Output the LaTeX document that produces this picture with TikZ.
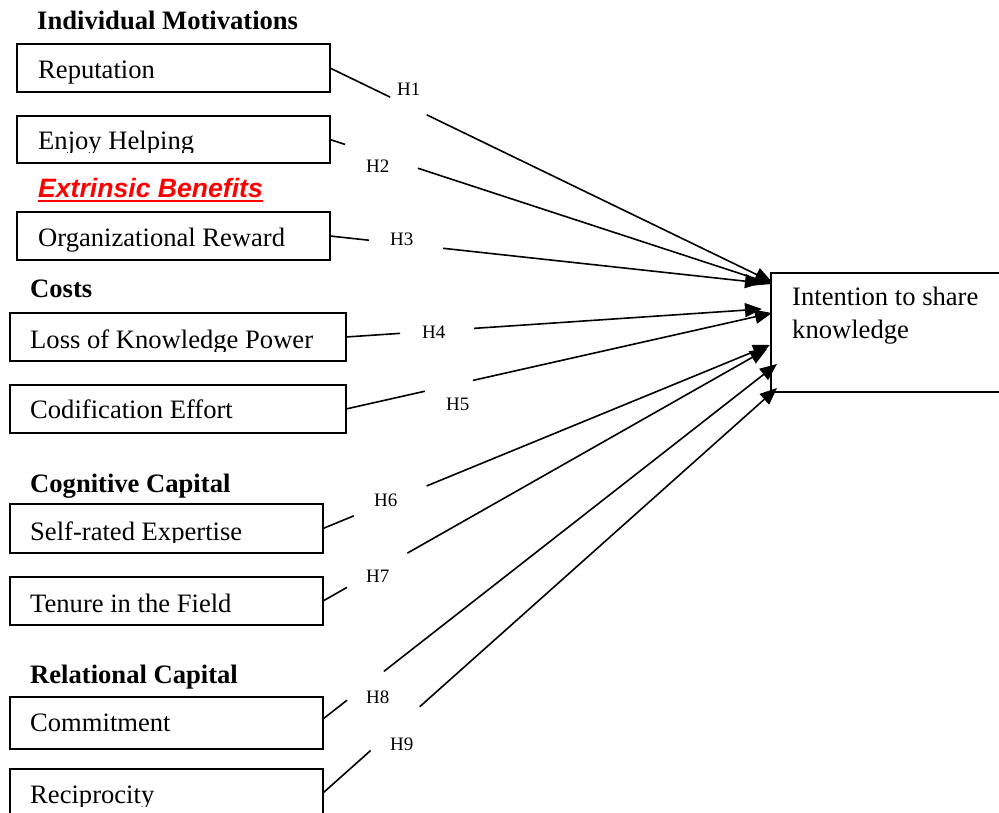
\documentclass[tikz,border=0pt]{standalone}
\usepackage{fontspec}
\setmainfont{Liberation Serif}
\newfontfamily\arialfont{Liberation Sans}
\usetikzlibrary{arrows.meta,calc}
\begin{document}
\begin{tikzpicture}[x=1pt,y=-1pt,
  box/.style={draw, line width=1.6pt, rectangle, inner sep=0pt, outer sep=0pt, anchor=north west},
  txt/.style={anchor=base west, inner sep=0pt, font=\fontsize{26.6}{33}\selectfont},
  head/.style={anchor=base west, inner sep=0pt, font=\fontsize{26.6}{33}\selectfont\bfseries},
  hyp/.style={anchor=base west, inner sep=0pt, font=\fontsize{19}{22}\selectfont},
  conn/.style={line width=1.6pt},
  arr/.style={line width=1.6pt, -{Triangle[length=17pt,width=14pt]}},
]
\useasboundingbox (0,0) rectangle (999,813);
\clip (0,0) rectangle (999,813);

% boxes
\node[box, minimum width=313pt, minimum height=48pt] (rep) at (17,44) {};
\node[box, minimum width=313pt, minimum height=47pt] (enj) at (17,116) {};
\node[box, minimum width=313pt, minimum height=48pt] (org) at (17,212) {};
\node[box, minimum width=336pt, minimum height=48pt] (los) at (10,313) {};
\node[box, minimum width=336pt, minimum height=48pt] (cod) at (10,385) {};
\node[box, minimum width=313pt, minimum height=49pt] (sel) at (10,504) {};
\node[box, minimum width=313pt, minimum height=48pt] (ten) at (10,577) {};
\node[box, minimum width=313pt, minimum height=52pt] (com) at (10,697) {};
\node[box, minimum width=313pt, minimum height=48pt] (rec) at (10,769) {};
\node[box, minimum width=260pt, minimum height=119pt] (int) at (771,273) {};

% headings
\node[head] (hIM) at (37,30) {Individual Motivations};
\node[anchor=base west, inner sep=0pt, text=red, font=\arialfont\fontsize{26.6}{33}\selectfont\bfseries\itshape] (hEB) at (38,198) {Extrinsic Benefits};
\draw[red, line width=1.8pt] ([yshift=-2.8pt]hEB.base west) -- ([yshift=-2.8pt]hEB.base east);
\node[head] (hCo) at (30,298) {Costs};
\node[head] (hCC) at (30,492) {Cognitive Capital};
\node[head] (hRC) at (30,683) {Relational Capital};

% box texts
\node[txt] (lrep) at (38,79) {Reputation};
\begin{scope}
  \clip (0,0) rectangle (999,152.5);
  \node[txt] (lenj) at (38,150) {Enjoy Helping};
\end{scope}
\node[txt] (lorg) at (38,247) {Organizational Reward};
\begin{scope}
  \clip (0,0) rectangle (999,351);
  \node[txt] (llos) at (30,348) {Loss of Knowledge Power};
\end{scope}
\node[txt] (lcod) at (30,418) {Codification Effort};
\begin{scope}
  \clip (0,0) rectangle (999,542.5);
  \node[txt] (lsel) at (30,540) {Self-rated Expertise};
\end{scope}
\node[txt] (lten) at (30,612) {Tenure in the Field};
\node[txt] (lcom) at (30,731) {Commitment};
\begin{scope}
  \clip (0,0) rectangle (999,806);
  \node[txt] (lrec) at (30,803) {Reciprocity};
\end{scope}
\node[txt, align=left] (lint) at (792,338) {Intention to share\\knowledge};

% hypothesis labels
\node[hyp] (H1) at (397,96) {H1};
\node[hyp] (H2) at (366,173) {H2};
\node[hyp] (H3) at (390,246) {H3};
\node[hyp] (H4) at (422,338) {H4};
\node[hyp] (H5) at (446,410) {H5};
\node[hyp] (H6) at (374,506) {H6};
\node[hyp] (H7) at (366,582) {H7};
\node[hyp] (H8) at (366,703) {H8};
\node[hyp] (H9) at (390,750) {H9};

% arrow targets
\coordinate (t1) at (772,282);
\coordinate (t2) at (772,284);
\coordinate (t3) at (762,283);
\coordinate (t4) at (762,309);
\coordinate (t5) at (772,313);
\coordinate (t6) at (770,345);
\coordinate (t7) at (767,349);
\coordinate (t8) at (777,364);
\coordinate (t9) at (777,388);

% connectors (broken around the labels)
\draw[conn] (rep.east) -- ($(rep.east)!0.136!(t1)$);
\draw[arr] ($(rep.east)!0.219!(t1)$) -- (t1);
\draw[conn] (enj.east) -- ($(enj.east)!0.034!(t2)$);
\draw[arr] ($(enj.east)!0.199!(t2)$) -- (t2);
\draw[conn] (org.east) -- ($(org.east)!0.09!(t3)$);
\draw[arr] ($(org.east)!0.262!(t3)$) -- (t3);
\draw[conn] (los.east) -- ($(los.east)!0.13!(t4)$);
\draw[arr] ($(los.east)!0.308!(t4)$) -- (t4);
\draw[conn] (cod.east) -- ($(cod.east)!0.185!(t5)$);
\draw[arr] ($(cod.east)!0.298!(t5)$) -- (t5);
\draw[conn] (sel.east) -- ($(sel.east)!0.069!(t6)$);
\draw[arr] ($(sel.east)!0.232!(t6)$) -- (t6);
\draw[conn] (ten.east) -- ($(ten.east)!0.054!(t7)$);
\draw[arr] ($(ten.east)!0.19!(t7)$) -- (t7);
\draw[conn] ([yshift=4pt]com.east) -- ($([yshift=4pt]com.east)!0.053!(t8)$);
\draw[arr] ($([yshift=4pt]com.east)!0.134!(t8)$) -- (t8);
\draw[conn] (rec.east) -- ($(rec.east)!0.105!(t9)$);
\draw[arr] ($(rec.east)!0.213!(t9)$) -- (t9);
\end{tikzpicture}
\end{document}
